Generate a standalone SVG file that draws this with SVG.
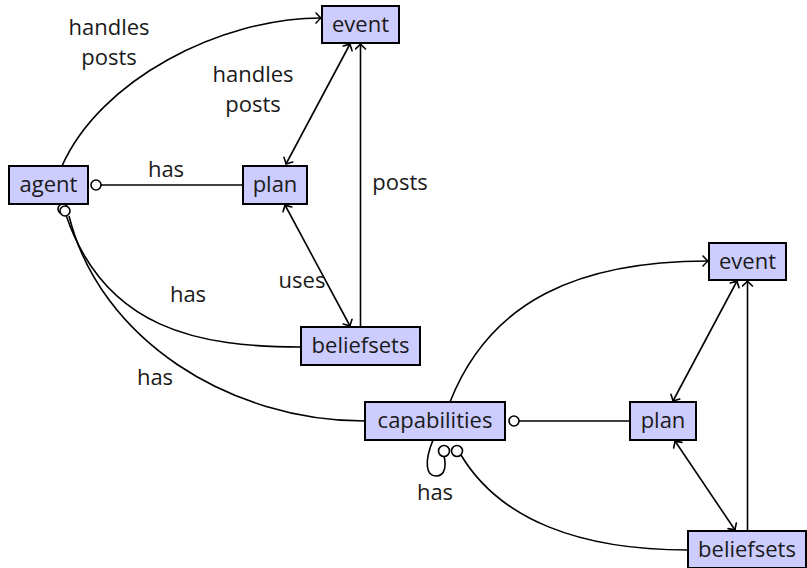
<svg xmlns="http://www.w3.org/2000/svg" width="807" height="568" viewBox="0 0 807 568">
  <defs>
    <marker id="to" viewBox="-6 -6 8 12" markerWidth="8" markerHeight="12" refX="0" refY="0" orient="auto-start-reverse" markerUnits="userSpaceOnUse">
      <path d="M-5,-5 Q-1.5,-1.2 0,0 Q-1.5,1.2 -5,5" fill="none" stroke="#000" stroke-width="1.6" stroke-linecap="round"/>
    </marker>
  </defs>
  <style>
    .box { fill: #ccccff; stroke: #000; stroke-width: 2; }
    .lbl { font-family: "Open Sans", "Noto Sans", sans-serif; font-size: 22px; fill: #1a1a1a; text-anchor: middle; }
    .edge { fill: none; stroke: #000; stroke-width: 1.6; }
    .arr { marker-end: url(#to); }
    .both { marker-start: url(#to); marker-end: url(#to); }
    .tail { fill: #fff; stroke: #000; stroke-width: 1.6; }
  </style>

  <rect width="807" height="568" fill="#fff"/>

  <g id="connectors">
    <!-- upper cluster -->
    <path class="edge arr" d="M62,166 C100,80 220,18 321,18"/>
    <path class="edge both" d="M350,44 L286,164"/>
    <path class="edge arr" d="M360.5,327 L360.5,44"/>
    <path class="edge both" d="M285,205 L350,326"/>
    <line class="edge" x1="101" y1="185" x2="243" y2="185"/>
    <path class="edge" d="M66,215 C105,330 200,347 301,347"/>
    <path class="edge" d="M69,216 C100,340 230,421 365,421"/>
    <circle class="tail" cx="96" cy="185" r="5"/>
    <circle class="tail" cx="63" cy="209" r="5"/>
    <circle class="tail" cx="65" cy="211" r="5"/>

    <!-- lower cluster -->
    <path class="edge arr" d="M450,402 C490,300 580,261 708,261"/>
    <path class="edge both" d="M737,281 L673,401"/>
    <path class="edge arr" d="M747.5,531 L747.5,281"/>
    <path class="edge both" d="M675,441 L735,530"/>
    <line class="edge" x1="519" y1="421" x2="630" y2="421"/>
    <path class="edge" d="M461,455 C500,520 580,550 688,550"/>
    <path class="edge" d="M433,440 C424,462 426,476 436,476 C446,476 446,464 444,456"/>
    <circle class="tail" cx="514" cy="421" r="5"/>
    <circle class="tail" cx="444" cy="451" r="5.5"/>
    <circle class="tail" cx="457" cy="451" r="5.5"/>
  </g>

  <g id="labels">
    <text class="lbl" x="109" y="35">handles</text>
    <text class="lbl" x="109" y="65">posts</text>
    <text class="lbl" x="253" y="82">handles</text>
    <text class="lbl" x="253" y="112">posts</text>
    <text class="lbl" x="166" y="177">has</text>
    <text class="lbl" x="400" y="190">posts</text>
    <text class="lbl" x="302" y="288">uses</text>
    <text class="lbl" x="188" y="302">has</text>
    <text class="lbl" x="155" y="385">has</text>
    <text class="lbl" x="435" y="500">has</text>
  </g>

  <g id="agent">
    <rect class="box" x="9" y="166" width="79" height="38"/>
    <text class="lbl" x="48.5" y="192">agent</text>
  </g>
  <g id="event1">
    <rect class="box" x="322" y="6" width="77" height="37"/>
    <text class="lbl" x="360.5" y="32">event</text>
  </g>
  <g id="plan1">
    <rect class="box" x="243" y="166" width="64" height="38"/>
    <text class="lbl" x="275" y="192">plan</text>
  </g>
  <g id="beliefsets1">
    <rect class="box" x="301" y="327" width="119" height="38"/>
    <text class="lbl" x="360.5" y="353">beliefsets</text>
  </g>
  <g id="capabilities">
    <rect class="box" x="365" y="402" width="140" height="38"/>
    <text class="lbl" x="435" y="428">capabilities</text>
  </g>
  <g id="event2">
    <rect class="box" x="709" y="243" width="77" height="37"/>
    <text class="lbl" x="747.5" y="269">event</text>
  </g>
  <g id="plan2">
    <rect class="box" x="630" y="402" width="66" height="38"/>
    <text class="lbl" x="663" y="428">plan</text>
  </g>
  <g id="beliefsets2">
    <rect class="box" x="688" y="531" width="118" height="37"/>
    <text class="lbl" x="747" y="557">beliefsets</text>
  </g>
</svg>
